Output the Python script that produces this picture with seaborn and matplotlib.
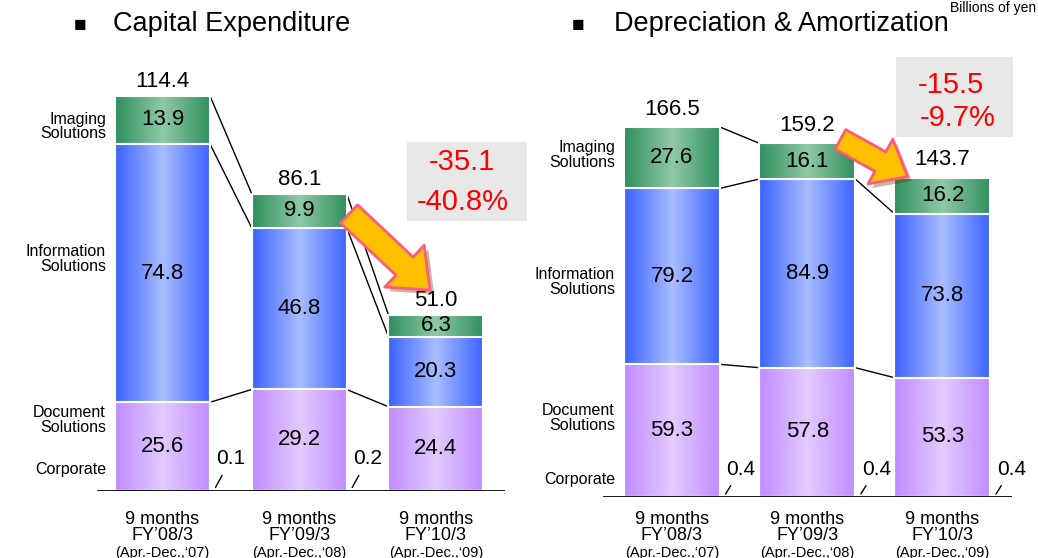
import numpy as np
import seaborn as sns
import matplotlib.pyplot as plt
import matplotlib.patheffects as pe
from matplotlib.colors import LinearSegmentedColormap
from matplotlib.patches import Rectangle, FancyArrowPatch

# Data (billions of yen)
periods = ["FY08", "FY09", "FY10"]
period_fy = ["FY\u201908/3", "FY\u201909/3", "FY\u201910/3"]
period_range = ["(Apr.-Dec.,\u201807)", "(Apr.-Dec.,\u201808)", "(Apr.-Dec.,\u201809)"]

capex_corporate = [0.1, 0.2, 0.0]
capex_document = [25.6, 29.2, 24.4]
capex_information = [74.8, 46.8, 20.3]
capex_imaging = [13.9, 9.9, 6.3]
capex_total = [114.4, 86.1, 51.0]
capex_change = ["-35.1", "-40.8%"]

da_corporate = [0.4, 0.4, 0.4]
da_document = [59.3, 57.8, 53.3]
da_information = [79.2, 84.9, 73.8]
da_imaging = [27.6, 16.1, 16.2]
da_total = [166.5, 159.2, 143.7]
da_change = ["-15.5", "-9.7%"]

segment_names = ["Imaging\nSolutions", "Information\nSolutions", "Document\nSolutions", "Corporate"]

W, H = 1038, 558

sns.set_style("white")
plt.rcParams["font.family"] = ["Liberation Sans", "DejaVu Sans"]
plt.rcParams["text.color"] = "black"

green = LinearSegmentedColormap.from_list("g", ["#2f8f5e", "#8fc9a5", "#2f8f5e"])
blue = LinearSegmentedColormap.from_list("b", ["#3a62ff", "#a9bdff", "#3a62ff"])
purple = LinearSegmentedColormap.from_list("p", ["#bf8cff", "#e3cbff", "#bf8cff"])
grad = np.linspace(0, 1, 256).reshape(1, -1)


def fx(px):
    return px / W


def fy(py):
    return 1 - py / H


def draw_panel(ax, corp, doc, info, img, total, width, xlim, ylim,
               name_y, total_off, corp_off, xlab_off):
    corp = np.array(corp)
    doc_top = corp + np.array(doc)
    info_top = doc_top + np.array(info)
    top = info_top + np.array(img)

    layers = [(top, green), (info_top, blue), (doc_top, purple)]
    for vals, cmap in layers:
        n0 = len(ax.patches)
        sns.barplot(x=periods, y=vals, color="white", width=width, ax=ax,
                    errorbar=None, saturation=1, edgecolor="white", linewidth=1.5)
        for p in ax.patches[n0:]:
            x0, y0 = p.get_x(), p.get_y()
            im = ax.imshow(grad, extent=[x0, x0 + p.get_width(), y0, y0 + p.get_height()],
                           cmap=cmap, aspect="auto", zorder=1)
            im.set_clip_path(p)
            p.set_facecolor("none")
            p.set_zorder(2)

    # connector lines between bars
    for lev in [doc_top, info_top, top]:
        for i in range(2):
            ax.plot([i + width / 2, i + 1 - width / 2], [lev[i], lev[i + 1]],
                    color="black", lw=1, zorder=0.5)

    # segment values
    for i in range(3):
        for lo, hi, v in [(corp[i], doc_top[i], doc[i]), (doc_top[i], info_top[i], info[i]),
                          (info_top[i], top[i], img[i])]:
            ax.text(i, (lo + hi) / 2, f"{v:.1f}", ha="center", va="center", fontsize=16, zorder=4)
        ax.annotate(f"{total[i]:.1f}", xy=(i, top[i]), xytext=(0, total_off),
                    textcoords="offset pixels", ha="center", va="center", fontsize=16)
        if corp[i] > 0:
            ax.annotate(f"{corp[i]:.1f}", xy=(i + width / 2 + 0.03, 0.3), xytext=(17, corp_off),
                        textcoords="offset pixels", ha="center", va="center", fontsize=15,
                        arrowprops=dict(arrowstyle="-", color="black", lw=1, shrinkA=3, shrinkB=2))
        ax.annotate("9 months", xy=(i, 0), xytext=(0, xlab_off), textcoords="offset pixels",
                    ha="center", va="center", fontsize=13)
        ax.annotate(period_fy[i], xy=(i, 0), xytext=(0, xlab_off - 16), textcoords="offset pixels",
                    ha="center", va="center", fontsize=13)
        ax.annotate(period_range[i], xy=(i, 0), xytext=(0, xlab_off - 34), textcoords="offset pixels",
                    ha="center", va="center", fontsize=10.5)

    # segment names on the left
    for name, y in zip(segment_names, name_y):
        ax.annotate(name, xy=(-width / 2, y), xytext=(-9, 0), textcoords="offset pixels",
                    ha="right", va="center", fontsize=11.5, linespacing=0.95)

    ax.axhline(0, color="black", lw=2, zorder=3)
    ax.set_xlim(*xlim)
    ax.set_ylim(*ylim)
    ax.set_xticks([])
    ax.set_yticks([])
    ax.set_xlabel("")
    ax.set_ylabel("")
    sns.despine(ax=ax, left=True, bottom=True)


fig = plt.figure(figsize=(W / 100, H / 100), dpi=100)

ax1 = fig.add_axes([fx(97), (H - 491) / H, 408 / W, 451 / H])
draw_panel(ax1, capex_corporate, capex_document, capex_information, capex_imaging, capex_total,
           width=0.695, xlim=(-0.479, 2.505), ylim=(0, 451 / 3.453),
           name_y=[105.6, 67.2, 20.6, 6.1], total_off=14, corp_off=31, xlab_off=-28)

ax2 = fig.add_axes([fx(603), (H - 497) / H, 409 / W, 457 / H])
draw_panel(ax2, da_corporate, da_document, da_information, da_imaging, da_total,
           width=0.71, xlim=(-0.51, 2.514), ylim=(0, 457 / 2.222),
           name_y=[153.9, 96.7, 35.6, 7.7], total_off=18, corp_off=27, xlab_off=-22)

# titles
fig.text(fx(74), fy(25), "\u25a0", fontsize=15, va="center")
fig.text(fx(113), fy(24), "Capital Expenditure", fontsize=19.5, va="center")
fig.text(fx(572), fy(25), "\u25a0", fontsize=15, va="center")
fig.text(fx(614), fy(24), "Depreciation & Amortization", fontsize=19.5, va="center")
fig.text(fx(1036), fy(1), "Billions of yen", fontsize=10, ha="right", va="top")

# change boxes
for (x0, y0, x1, y1), lines, centers in [
        ((407, 142, 527, 221), capex_change, [(462, 162), (463, 202)]),
        ((896, 57, 1013, 137), da_change, [(951, 85), (958, 118)])]:
    fig.add_artist(Rectangle((fx(x0), fy(y1)), fx(x1 - x0), (y1 - y0) / H,
                             transform=fig.transFigure, facecolor="#e8e8e8", edgecolor="none"))
    for txt, (cx, cy) in zip(lines, centers):
        fig.text(fx(cx), fy(cy), txt, color="#ff0000", fontsize=21, ha="center", va="center")

# arrows
for (xa, ya), (xb, yb), ms in [((347, 212), (432, 292), 18), ((838, 138), (910, 178), 16)]:
    arrow = FancyArrowPatch((fx(xa), fy(ya)), (fx(xb), fy(yb)), transform=fig.transFigure,
                            arrowstyle="simple,head_length=1.4,head_width=2.3,tail_width=1.0",
                            mutation_scale=ms, facecolor="#ffc000", edgecolor="#ff5b7a", lw=2,
                            path_effects=[pe.SimplePatchShadow(offset=(3, -3), alpha=0.35), pe.Normal()])
    fig.add_artist(arrow)

fig.savefig("out.png", dpi=100)
